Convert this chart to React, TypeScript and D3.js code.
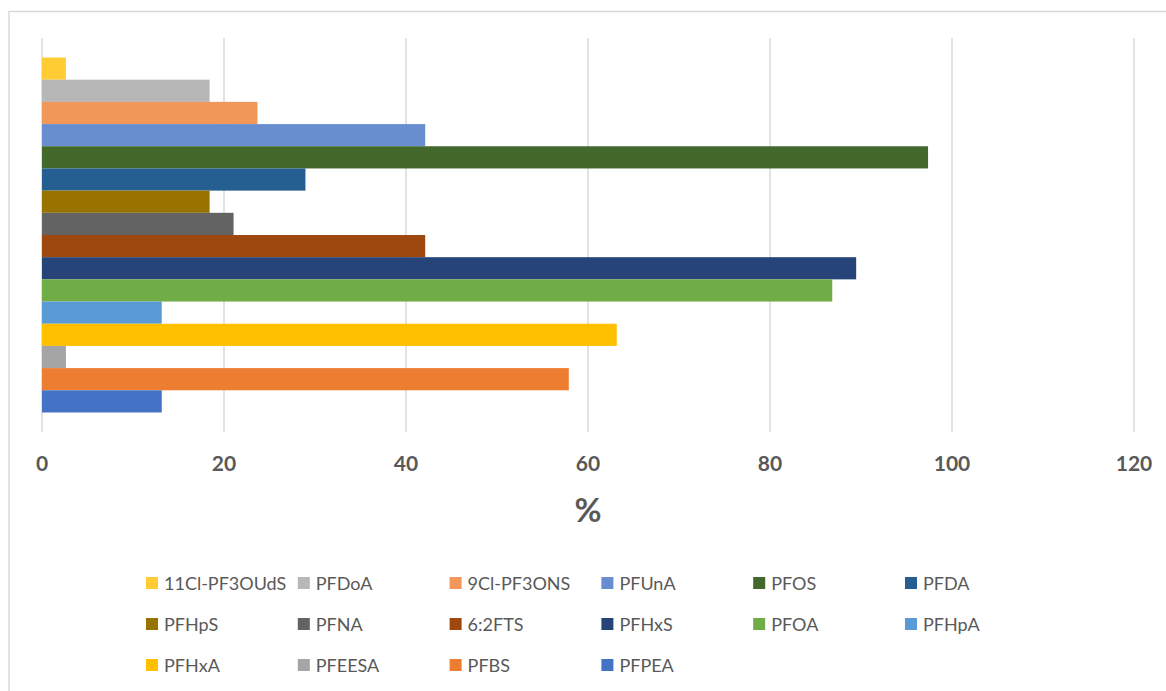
import React from "react";
import * as d3 from "d3";

// Detection frequency (%) per compound, listed top to bottom as drawn
const compounds = [
  "11Cl-PF3OUdS", "PFDoA", "9Cl-PF3ONS", "PFUnA", "PFOS", "PFDA",
  "PFHpS", "PFNA", "6:2FTS", "PFHxS", "PFOA", "PFHpA",
  "PFHxA", "PFEESA", "PFBS", "PFPEA",
];
const frequencies = [
  2.63, 18.42, 23.68, 42.11, 97.37, 28.95,
  18.42, 21.05, 42.11, 89.47, 86.84, 13.16,
  63.16, 2.63, 57.89, 13.16,
];
const colors = [
  "#FFCD33", "#B7B7B7", "#F1975A", "#698ED0", "#43682B", "#255E91",
  "#997300", "#636363", "#9E480E", "#264478", "#70AD47", "#5B9BD5",
  "#FFC000", "#A5A5A5", "#ED7D31", "#4472C4",
];
const xTicks = [0, 20, 40, 60, 80, 100, 120];
const axisTitle = "%";

const W = 1166;
const H = 691;
const plot = { left: 42, right: 1134, top: 38, bottom: 432 };
const textColor = "#595959";
const gridColor = "#D9D9D9";
const font = "Lato, 'Open Sans', sans-serif";

export default function App() {
  const x = d3.scaleLinear().domain([0, 120]).range([plot.left, plot.right]);
  const y = d3
    .scaleBand<string>()
    .domain(compounds)
    .range([plot.top, plot.bottom])
    .paddingInner(0)
    .paddingOuter(0.88);
  const color = d3.scaleOrdinal<string, string>().domain(compounds).range(colors);

  const legendCols = 6;
  const legendX0 = 146;
  const legendDX = 151.8;
  const legendY0 = 583;
  const legendDY = 41;

  return (
    <svg
      width={W}
      height={H}
      style={{ position: "absolute", left: 0, top: 0, background: "#fff" }}
      fontFamily={font}
    >
      <rect x={0} y={0} width={W} height={H} fill="#fff" />
      {/* chart frame */}
      <rect
        x={9}
        y={11.5}
        width={W + 20}
        height={H + 20}
        fill="none"
        stroke={gridColor}
        strokeWidth={1.5}
      />
      {/* vertical gridlines */}
      {xTicks.map((t) => (
        <line
          key={"g" + t}
          x1={x(t)}
          x2={x(t)}
          y1={plot.top}
          y2={plot.bottom}
          stroke={gridColor}
          strokeWidth={1.5}
        />
      ))}
      {/* bars */}
      {compounds.map((c, i) => (
        <rect
          key={c}
          x={x(0)}
          y={y(c)}
          width={x(frequencies[i]) - x(0)}
          height={y.bandwidth()}
          fill={color(c)}
        />
      ))}
      {/* tick labels */}
      {xTicks.map((t) => (
        <text
          key={"t" + t}
          x={x(t)}
          y={471}
          textAnchor="middle"
          fontSize={21}
          fontWeight={700}
          fill={textColor}
        >
          {t}
        </text>
      ))}
      <text
        x={(plot.left + plot.right) / 2}
        y={522}
        textAnchor="middle"
        fontSize={33}
        fontWeight={700}
        fill={textColor}
      >
        {axisTitle}
      </text>
      {/* legend */}
      {compounds.map((c, i) => {
        const col = i % legendCols;
        const row = Math.floor(i / legendCols);
        const lx = legendX0 + col * legendDX;
        const ly = legendY0 + row * legendDY;
        return (
          <g key={"l" + c}>
            <rect x={lx} y={ly - 6} width={12} height={12} fill={color(c)} />
            <text x={lx + 18} y={ly + 6.5} fontSize={18} fill={textColor}>
              {c}
            </text>
          </g>
        );
      })}
    </svg>
  );
}
